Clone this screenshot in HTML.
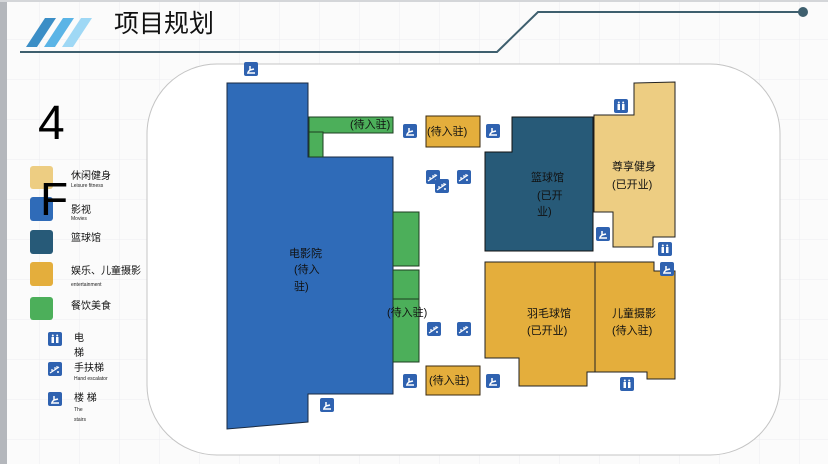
<!DOCTYPE html>
<html><head><meta charset="utf-8"><style>
body{margin:0;width:828px;height:464px;overflow:hidden;background:#fbfbfb;font-family:"Liberation Sans","Noto Sans CJK SC",sans-serif}
svg{position:absolute;left:0;top:0}
</style></head><body>
<svg width="828" height="464" viewBox="0 0 828 464" font-family="Liberation Sans, Noto Sans CJK SC, sans-serif">
<defs>
<pattern id="g" width="40" height="40" patternUnits="userSpaceOnUse"><path d="M40 0V40M0 40H40" stroke="#eceef0" stroke-width="1" fill="none"/></pattern>
<g id="st"><rect width="14" height="14" rx="2" fill="#2f62b0"/><path d="M3 11h8M4 10l2-2v-4M6 8l4-1" stroke="#fff" stroke-width="1.5" fill="none"/></g>
<g id="es"><rect width="14" height="14" rx="2" fill="#2f62b0"/><path d="M2 11l9-6M4 9v-2M7 7v-2M9 6v-2" stroke="#fff" stroke-width="1.2" fill="none"/><circle cx="10" cy="10" r="1" fill="#fff"/></g>
<g id="wc"><rect width="14" height="14" rx="2" fill="#2f62b0"/><rect x="3.5" y="5" width="2.5" height="6" fill="#fff"/><rect x="8" y="5" width="2.5" height="6" fill="#fff"/><circle cx="4.8" cy="3.5" r="1" fill="#fff"/><circle cx="9.2" cy="3.5" r="1" fill="#fff"/></g>
</defs>
<rect width="828" height="464" fill="url(#g)"/>
<rect x="0" y="0" width="7" height="464" fill="#b4b7bc"/>
<rect x="0" y="0" width="828" height="2" fill="#d4d6d9"/>
<!-- header -->
<path d="M26 47L45 18h11L37 47z" fill="#3b8ec6"/><path d="M44 47L63 18h11L55 47z" fill="#5ab4e6"/><path d="M62 47L81 18h11L73 47z" fill="#9fd8f5"/>
<text x="114" y="32" font-size="25" fill="#111">项目规划</text>
<path d="M20 52H497L538 12H803" stroke="#3e5f6e" stroke-width="2" fill="none"/>
<circle cx="803" cy="12" r="5" fill="#3e5f6e"/>
<!-- container -->
<rect x="147" y="64" width="633" height="391" rx="70" fill="#fff" stroke="#c4c4c4"/>
<!-- cinema -->
<path d="M227 83H308V157H393V394H308V422L227 429Z" fill="#2f6bb8" stroke="#1a2a40"/>
<text font-size="11" fill="#111"><tspan x="289" y="257">电影院</tspan><tspan x="294" y="273">(待入</tspan><tspan x="294" y="290">驻)</tspan></text>
<!-- greens -->
<rect x="309" y="117" width="84" height="16" fill="#4caf5a" stroke="#1d3d20"/>
<rect x="309" y="132" width="14" height="25" fill="#4caf5a" stroke="#1d3d20"/>
<rect x="393" y="212" width="26" height="54" fill="#4caf5a" stroke="#1d3d20"/>
<rect x="393" y="270" width="26" height="92" fill="#4caf5a" stroke="#1d3d20"/>
<line x1="393" y1="299" x2="419" y2="299" stroke="#1d3d20"/>
<text x="350" y="128" font-size="11" fill="#111">(待入驻)</text>
<text x="387" y="316" font-size="11" fill="#111">(待入驻)</text>
<!-- small oranges -->
<rect x="426" y="116" width="54" height="31" fill="#e4ae3c" stroke="#3a2a10"/>
<text x="427" y="135" font-size="11" fill="#111">(待入驻)</text>
<rect x="426" y="366" width="54" height="29" fill="#e4ae3c" stroke="#3a2a10"/>
<text x="429" y="384" font-size="11" fill="#111">(待入驻)</text>
<!-- basketball -->
<path d="M512 117H593V251H485V152H512Z" fill="#275a78" stroke="#111"/>
<text font-size="11" fill="#111"><tspan x="531" y="181">篮球馆</tspan><tspan x="537" y="199">(已开</tspan><tspan x="537" y="215">业)</tspan></text>
<!-- fitness -->
<path d="M634 83L675 82V237H653V247H613V212H594V115H634Z" fill="#edcd82" stroke="#222"/>
<text font-size="11" fill="#111"><tspan x="612" y="170">尊享健身</tspan><tspan x="612" y="188">(已开业)</tspan></text>
<!-- badminton -->
<path d="M485 262H595V372H587V386H519V358H485Z" fill="#e4ae3c" stroke="#222"/>
<text font-size="11" fill="#111"><tspan x="527" y="317">羽毛球馆</tspan><tspan x="527" y="334">(已开业)</tspan></text>
<!-- kids -->
<path d="M595 262H654V271H675V379H647V372H595Z" fill="#e4ae3c" stroke="#222"/>
<text font-size="11" fill="#111"><tspan x="612" y="317">儿童摄影</tspan><tspan x="612" y="334">(待入驻)</tspan></text>
<!-- icons -->
<use href="#st" x="244" y="62"/><use href="#st" x="403" y="124"/><use href="#st" x="486" y="124"/>
<use href="#es" x="426" y="170"/><use href="#es" x="435" y="179"/><use href="#es" x="457" y="170"/>
<use href="#wc" x="614" y="99"/><use href="#st" x="596" y="227"/><use href="#wc" x="658" y="242"/><use href="#st" x="660" y="262"/>
<use href="#es" x="427" y="322"/><use href="#es" x="457" y="322"/>
<use href="#st" x="403" y="374"/><use href="#st" x="486" y="374"/><use href="#st" x="320" y="398"/><use href="#wc" x="620" y="377"/>
<!-- legend -->
<text x="38" y="139" font-size="48" fill="#000">4</text>
<rect x="30" y="166" width="23" height="23" rx="3" fill="#edcd82"/>
<rect x="30" y="197" width="23" height="24" rx="3" fill="#2f6bb8"/>
<rect x="30" y="230" width="23" height="24" rx="3" fill="#275a78"/>
<rect x="30" y="262" width="23" height="24" rx="3" fill="#e4ae3c"/>
<rect x="30" y="297" width="23" height="23" rx="3" fill="#4caf5a"/>
<text x="40" y="215" font-size="46" fill="#000">F</text>
<text font-size="10" fill="#111"><tspan x="71" y="179">休闲健身</tspan><tspan x="71" y="213">影视</tspan><tspan x="71" y="241">篮球馆</tspan><tspan x="71" y="274">娱乐、儿童摄影</tspan><tspan x="71" y="309">餐饮美食</tspan></text>
<text font-size="5" fill="#222"><tspan x="71" y="187">Leisure fitness</tspan><tspan x="71" y="220">Movies</tspan><tspan x="71" y="286">entertainment</tspan></text>
<use href="#wc" x="48" y="332"/><use href="#es" x="48" y="362"/><use href="#st" x="48" y="392"/>
<text font-size="10" fill="#111"><tspan x="74" y="341">电</tspan><tspan x="74" y="356">梯</tspan><tspan x="74" y="371">手扶梯</tspan><tspan x="74" y="401">楼 梯</tspan></text>
<text font-size="5" fill="#222"><tspan x="74" y="380">Hand escalator</tspan><tspan x="74" y="411">The</tspan><tspan x="74" y="421">stairs</tspan></text>
</svg>
</body></html>
